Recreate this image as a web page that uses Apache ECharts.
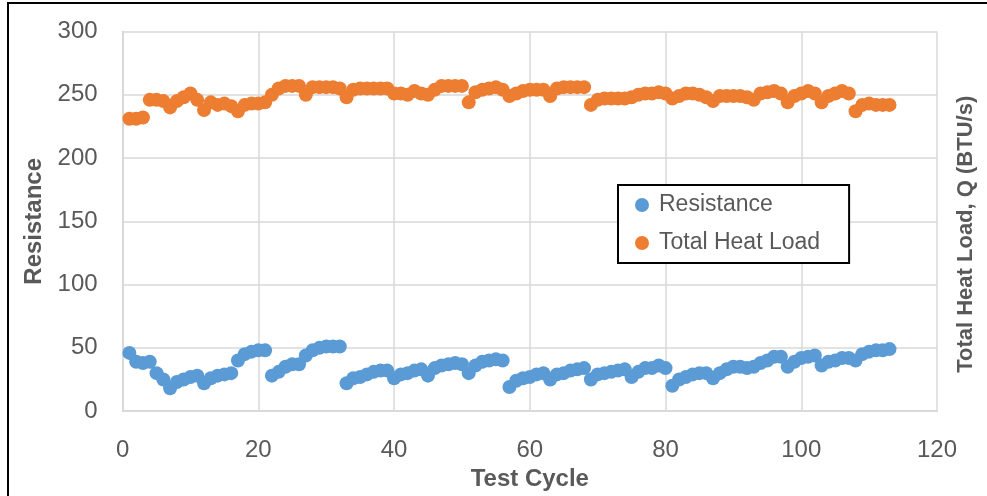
<!DOCTYPE html>
<html>
<head>
<meta charset="utf-8">
<script src="https://cdn.jsdelivr.net/npm/echarts@6/dist/echarts.min.js"></script>
<style>
html,body{margin:0;padding:0;background:#fff;}
#c{width:987px;height:496px;}
</style>
</head>
<body>
<div id="c"></div>
<script>
// Test cycles are consecutive integers starting at 1
const firstCycle = 1;
const seriesNames = ['Resistance', 'Total Heat Load'];
const resistance = [
  46,39,38,39,30,25,18,23,25,27,
  28,22,26,28,29,30,40,45,47,48,
  48,28,31,35,37,37,44,48,50,51,
  51,51,22,26,27,29,31,32,32,26,
  29,30,32,33,28,34,36,37,38,37,
  30,36,39,40,41,40,19,24,26,27,
  29,30,25,29,30,32,33,34,25,29,
  30,31,32,33,27,31,34,34,36,34,
  20,25,27,29,30,30,26,30,33,35,
  35,34,35,38,40,43,43,35,39,42,
  43,44,36,39,40,42,42,40,45,47,
  48,48,49
];
const heatLoad = [
  231,231,232,246,246,245,240,245,248,251,
  246,238,244,242,243,241,237,242,243,243,
  244,250,255,257,257,257,250,256,256,256,
  256,255,248,254,255,255,255,255,255,251,
  251,250,253,251,250,254,257,257,257,257,
  244,252,254,255,256,254,249,251,253,254,
  254,254,249,255,256,256,256,256,242,246,
  247,247,247,247,248,250,251,251,252,251,
  247,249,251,251,250,248,245,249,249,249,
  249,248,246,251,252,253,251,244,249,251,
  253,251,244,249,251,253,251,237,242,243,
  242,242,242
];
const xTicks = {min: 0, max: 120, interval: 20};
const yTicks = {min: 0, max: 300, interval: 50};
const xTitle = 'Test Cycle';
const yTitle = 'Resistance';
const y2Title = 'Total Heat Load, Q (BTU/s)';

const toPairs = arr => arr.map((v, i) => [firstCycle + i, v]);
const FONT = 'Liberation Sans';
const TXT = '#595959';
const GRID = '#d9d9d9';

const chart = echarts.init(document.getElementById('c'), null, {renderer: 'canvas'});
chart.setOption({
  animation: false,
  backgroundColor: '#ffffff',
  textStyle: {fontFamily: FONT},
  graphic: [{
    type: 'rect', silent: true, z: 100,
    shape: {x: 8, y: 3, width: 1000, height: 520},
    style: {fill: 'none', stroke: '#000', lineWidth: 2}
  }],
  grid: {left: 122.6, right: 50, top: 31.5, bottom: 81, containLabel: false},
  legend: {
    orient: 'vertical',
    left: 618, top: 185,
    data: seriesNames,
    icon: 'circle',
    itemWidth: 14, itemHeight: 14,
    itemGap: 14,
    padding: [8, 29, 8, 17],
    borderColor: '#000', borderWidth: 2,
    backgroundColor: '#fff',
    textStyle: {fontFamily: FONT, fontSize: 23, color: TXT, lineHeight: 24, padding: [0, 0, 0, 5]}
  },
  xAxis: {
    type: 'value', min: xTicks.min, max: xTicks.max, interval: xTicks.interval,
    name: xTitle, nameLocation: 'middle', nameGap: 49,
    nameTextStyle: {fontFamily: FONT, fontSize: 24, fontWeight: 'bold', color: TXT},
    axisLine: {show: true, lineStyle: {color: GRID, width: 2}},
    axisTick: {show: false},
    axisLabel: {margin: 27, fontFamily: FONT, fontSize: 24, color: TXT},
    splitLine: {show: true, lineStyle: {color: GRID, width: 1.5}}
  },
  yAxis: [{
    type: 'value', min: yTicks.min, max: yTicks.max, interval: yTicks.interval,
    name: yTitle, nameLocation: 'middle', nameGap: 76, nameRotate: 90,
    nameTextStyle: {fontFamily: FONT, fontSize: 24, fontWeight: 'bold', color: TXT},
    axisLine: {show: true, lineStyle: {color: GRID, width: 2}},
    axisTick: {show: false},
    axisLabel: {margin: 25, fontFamily: FONT, fontSize: 24, color: TXT},
    splitLine: {show: true, lineStyle: {color: GRID, width: 1.5}}
  }, {
    type: 'value', position: 'right', min: yTicks.min, max: yTicks.max, interval: yTicks.interval,
    name: y2Title, nameLocation: 'middle', nameGap: 18, nameRotate: 90,
    nameTextStyle: {fontFamily: FONT, fontSize: 22, fontWeight: 'bold', color: TXT, padding: [0, 26, 0, 0]},
    axisLine: {show: false}, axisTick: {show: false}, axisLabel: {show: false},
    splitLine: {show: false}
  }],
  series: [{
    name: seriesNames[0], type: 'scatter', yAxisIndex: 0,
    symbol: 'circle', symbolSize: 14,
    itemStyle: {color: '#5B9BD5', opacity: 1},
    data: toPairs(resistance)
  }, {
    name: seriesNames[1], type: 'scatter', yAxisIndex: 1,
    symbol: 'circle', symbolSize: 14,
    itemStyle: {color: '#ED7D31', opacity: 1},
    data: toPairs(heatLoad)
  }]
});
</script>
</body>
</html>
